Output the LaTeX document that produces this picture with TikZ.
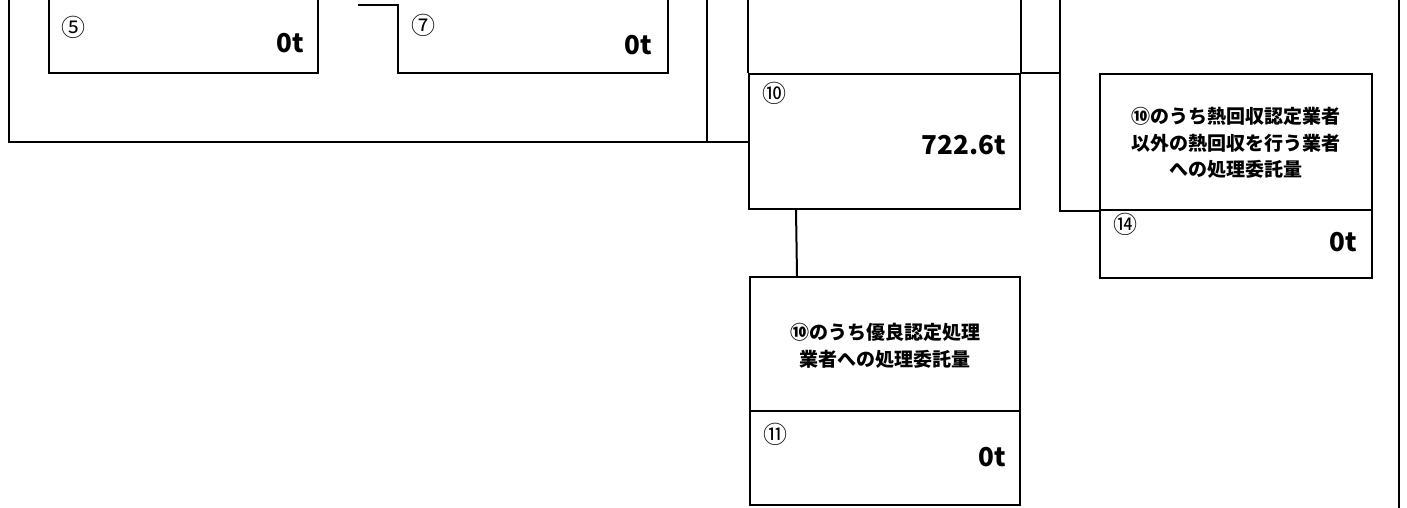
\documentclass[tikz,border=0pt]{standalone}
\usepackage{fontspec}
\setmainfont{Noto Sans CJK JP}
\usepackage{tikz}

\begin{document}
\begin{tikzpicture}[x=0.5pt,y={(0pt,-0.5pt)},line width=1pt]
\tikzset{box/.style={draw,inner sep=0pt},
  num/.style={inner sep=0pt,font=\fontsize{12}{12}\selectfont},
  val/.style={inner sep=0pt,anchor=east,font=\bfseries\fontsize{13}{13}\selectfont},
  memo/.style={inner sep=0pt,align=center,font=\bfseries\fontsize{9.5}{13.25}\selectfont}}
\useasboundingbox (0,0) rectangle (1407,508);
% boxes
\node [box,minimum width=135.5pt,minimum height=67.5pt] (b10) at (884.5,141.5) {};
\node [box,minimum width=136pt,minimum height=68pt] (b14t) at (1236,142) {};
\node [box,minimum width=136pt,minimum height=34pt] (b14b) at (1236,244) {};
\node [box,minimum width=135pt,minimum height=67pt] (b11t) at (885,344) {};
\node [box,minimum width=135pt,minimum height=47pt] (b11b) at (885,458) {};
% cut off at the top
\coordinate (frameL) at (9,0);
\coordinate (frameR) at (707,0);
\coordinate (top14) at (1060,0);
\coordinate (rim) at (1399,0);
\draw (49,0) |- (318,73) -- (318,0);
\draw (358,5) -| (398,73) -| (668,0);
\draw (frameL) |- (b10.west);
\draw (frameR) -- (frameR |- b10.west);
\draw (b10.north west) -- (b10.north west |- frameL);
\draw (b10.north east) -- (b10.north east |- frameL);
\draw (b10.north east) -- (b10.north east -| top14);
\draw (top14) |- (b14t.south west);
\draw ([xshift=24pt]b10.south west) -- ([xshift=24pt]b11t.north west);
\draw (rim) -- (1399,508);
% texts
\draw (73,27) node [num] {⑤};
\draw (305,43) node [val] {0t};
\draw (423,25) node [num] {⑦};
\draw (653,45) node [val] {0t};
\draw (774,93) node [num] {⑩};
\draw (1007,145) node [val] {722.6t};
\draw (1236,143) node [memo] {⑩のうち熱回収認定業者\\以外の熱回収を行う業者\\への処理委託量};
\draw (1125,224) node [num] {⑭};
\draw (1358,242) node [val] {0t};
\draw (885,346) node [memo] {⑩のうち優良認定処理\\業者への処理委託量};
\draw (775,434) node [num] {⑪};
\draw (1007,457) node [val] {0t};
\end{tikzpicture}
\end{document}
